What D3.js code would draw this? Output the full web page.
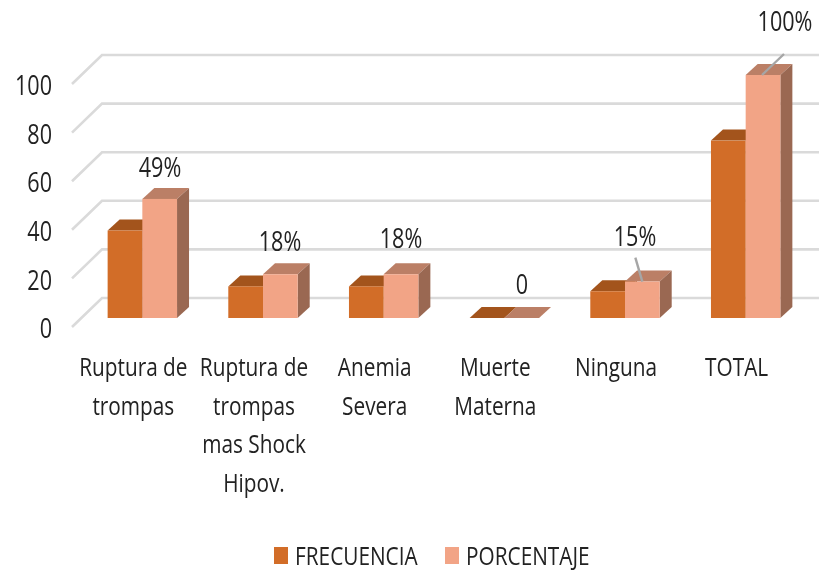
<!DOCTYPE html>
<html>
<head>
<meta charset="utf-8">
<script src="https://cdn.jsdelivr.net/npm/d3@7/dist/d3.min.js"></script>
<style>
html,body{margin:0;padding:0;background:#fff}
svg{display:block;filter:blur(0.45px)}
text{font-family:"Open Sans",sans-serif;fill:#222}
</style>
</head>
<body>
<svg id="chart" width="819" height="573"></svg>
<script>
const categories=[["Ruptura de","trompas"],["Ruptura de","trompas","mas Shock","Hipov."],["Anemia","Severa"],["Muerte","Materna"],["Ninguna"],["TOTAL"]];
const frecuencia=[36,13,13,0,11,73];
const porcentaje=[49,18,18,0,15,100];
const pctLabels=["49%","18%","18%","0","15%","100%"];
const yTicks=[0,20,40,60,80,100];
const seriesNames=["FRECUENCIA","PORCENTAJE"];
const colors={FRECUENCIA:{front:"#d26d28",top:"#a3541c",side:"#8f4a1a"},PORCENTAJE:{front:"#f2a486",top:"#bb7f66",side:"#9a6852"}};

const svg=d3.select("#chart");
const y=d3.scaleLinear().domain([0,100]).range([318,75]);
const x0=d3.scaleBand().domain(d3.range(categories.length)).range([82,806]);
const barW=34.7, depthX=12, depthY=11;
const barX=i=>x0(i)+x0.bandwidth()/2-barW;

const wallDX=30, wallDY=-20, floorDY=9, gridR=819;
const grid=svg.append("g");
yTicks.forEach(t=>{
  const yy=y(t);
  grid.append("path")
    .attr("d",`M72,${yy+floorDY}L${72+wallDX},${yy+wallDY}L${gridR},${yy+wallDY}`)
    .attr("fill","none").attr("stroke","#dadada").attr("stroke-width",2.6);
});

const yAxisScale=y.copy().range([y(0)+floorDY+2,y(100)+floorDY+2]);
const axis=svg.append("g").attr("transform","translate(52,0)")
  .call(d3.axisLeft(yAxisScale).tickValues(yTicks).tickSize(0).tickPadding(0));
axis.select(".domain").remove();
axis.selectAll("text").style("font-family",'"Open Sans",sans-serif').style("font-size","27px").attr("fill","#222");

function bar3d(g,x,v,c){
  const yt=y(v), yb=y(0), w=barW;
  g.append("path").attr("d",`M${x},${yt}L${x+depthX},${yt-depthY}L${x+w+depthX},${yt-depthY}L${x+w},${yt}Z`).attr("fill",c.top);
  g.append("path").attr("d",`M${x+w},${yt}L${x+w+depthX},${yt-depthY}L${x+w+depthX},${yb-depthY}L${x+w},${yb}Z`).attr("fill",c.side);
  g.append("rect").attr("x",x).attr("y",yt).attr("width",w).attr("height",yb-yt).attr("fill",c.front);
}
const bars=svg.append("g");
categories.forEach((_,i)=>{
  const g=bars.append("g");
  bar3d(g,barX(i),frecuencia[i],colors.FRECUENCIA);
  bar3d(g,barX(i)+barW,porcentaje[i],colors.PORCENTAJE);
});

const leaders=[{i:4,dx:[0,-7],dy:[0,-24]},{i:5,dx:[-1,21],dy:[0,-21]}];
leaders.forEach(l=>{
  const cx=barX(l.i)+barW*1.5, yy=y(porcentaje[l.i]);
  svg.append("line").attr("x1",cx+l.dx[0]).attr("y1",yy+l.dy[0])
    .attr("x2",cx+l.dx[1]).attr("y2",yy+l.dy[1])
    .attr("stroke","#a6a6a6").attr("stroke-width",2.4);
});

const labelPos=[[160,177],[280,251],[401,248],[522,294],[635,246],[785,31]];
svg.append("g").selectAll("text").data(pctLabels).join("text")
  .attr("x",(d,i)=>labelPos[i][0]).attr("y",(d,i)=>labelPos[i][1])
  .attr("text-anchor","middle").attr("font-size",27).text(d=>d);

const catG=svg.append("g");
categories.forEach((lines,i)=>{
  lines.forEach((ln,j)=>{
    catG.append("text")
      .attr("x",x0(i)+x0.bandwidth()/2-9)
      .attr("y",376+j*38.5)
      .attr("text-anchor","middle").attr("font-size",26).text(ln);
  });
});

const lg=svg.append("g");
[[274,295],[445,466]].forEach((p,i)=>{
  lg.append("rect").attr("x",p[0]).attr("y",547).attr("width",14).attr("height",17).attr("fill",colors[seriesNames[i]].front);
  lg.append("text").attr("x",p[1]).attr("y",565).attr("font-size",26).text(seriesNames[i]);
});

// condense all text to the reference's narrow letterforms
svg.selectAll("text").each(function(){
  const n=this.getComputedTextLength();
  d3.select(this).attr("textLength",n*0.8).attr("lengthAdjust","spacingAndGlyphs");
});
</script>
</body>
</html>
